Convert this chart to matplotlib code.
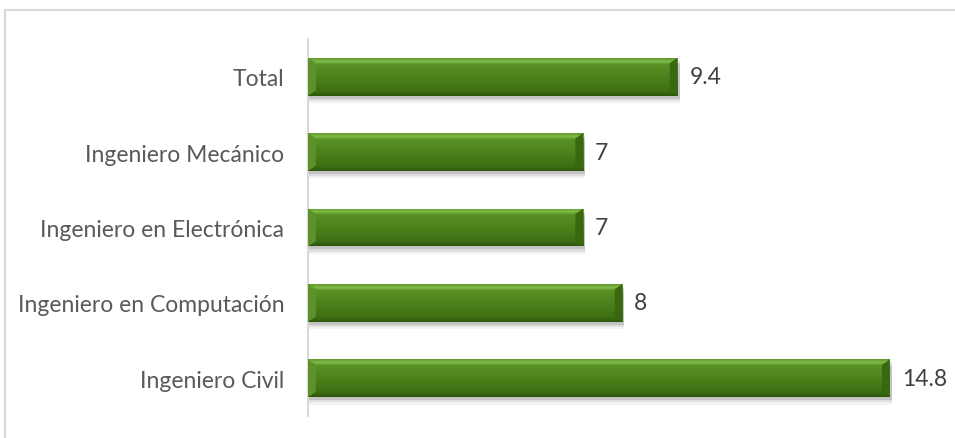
import matplotlib.pyplot as plt
import numpy as np
from matplotlib.colors import LinearSegmentedColormap
from matplotlib.patches import Rectangle, Polygon

plt.rcParams["font.family"] = ["Lato", "DejaVu Sans"]

categories = ["Ingeniero Civil", "Ingeniero en Computación", "Ingeniero en Electrónica",
              "Ingeniero Mecánico", "Total"]
values = [14.8, 8, 7, 7, 9.4]
value_labels = ["14.8", "8", "7", "7", "9.4"]

W, H = 955, 439
fig = plt.figure(figsize=(W / 100, H / 100), dpi=100)

# light frame around the chart area (runs off the right and bottom edges)
fig.patches.append(Rectangle((5 / W, -0.1), 1.2, 1 - 11 / H + 0.1, transform=fig.transFigure,
                             fill=False, edgecolor="#d9d9d9", linewidth=1.5))

ax = fig.add_axes([308 / W, 1 - 417 / H, 629 / W, 377 / H])
ax.set_xlim(0, 16)
ax.set_ylim(-0.5, len(categories) - 0.5)

bar_h = 0.5
green = LinearSegmentedColormap.from_list(
    "bevel", [(0.0, "#2f560c"), (0.12, "#3e6e13"), (0.5, "#4c821b"),
              (0.84, "#5a9126"), (0.91, "#80bd48"), (1.0, "#63992e")])
grad = np.linspace(0, 1, 64).reshape(-1, 1)

for i, v in enumerate(values):
    y0, y1 = i - bar_h / 2, i + bar_h / 2
    # soft drop shadow
    for k, a in enumerate([0.12, 0.08, 0.05]):
        off = 0.04 + k * 0.03
        ax.add_patch(Rectangle((0, y0 - off), v + 0.05, bar_h, facecolor="#000000",
                               alpha=a, edgecolor="none", zorder=1))
    bar = ax.barh(i, v, height=bar_h, color="#4c821b", edgecolor="none", zorder=2)[0]
    im = ax.imshow(grad, extent=(0, v, y0, y1), origin="lower", cmap=green,
                   aspect="auto", zorder=3)
    im.set_clip_path(bar)
    # bevelled ends
    e = 0.2
    ax.add_patch(Polygon([(v, y0), (v, y1), (v - e, y1 - 0.07), (v - e, y0 + 0.07)],
                         closed=True, facecolor="#3a6810", edgecolor="none", zorder=4))
    ax.add_patch(Polygon([(0, y0), (0, y1), (e, y1 - 0.07), (e, y0 + 0.07)],
                         closed=True, facecolor="#5c9229", edgecolor="none", zorder=4))
    ax.text(v + 0.3, i, value_labels[i], va="center", ha="left", fontsize=16.5,
            color="#404040", zorder=5)

ax.set_yticks(range(len(categories)))
ax.set_yticklabels(categories, fontsize=16.5, color="#595959")
ax.tick_params(axis="y", length=0, pad=17)
ax.set_xticks([])
for side in ["top", "right", "bottom"]:
    ax.spines[side].set_visible(False)
ax.spines["left"].set_color("#d9d9d9")
ax.spines["left"].set_linewidth(1.5)
ax.patch.set_alpha(0)

fig.savefig("out.png", dpi=100)
